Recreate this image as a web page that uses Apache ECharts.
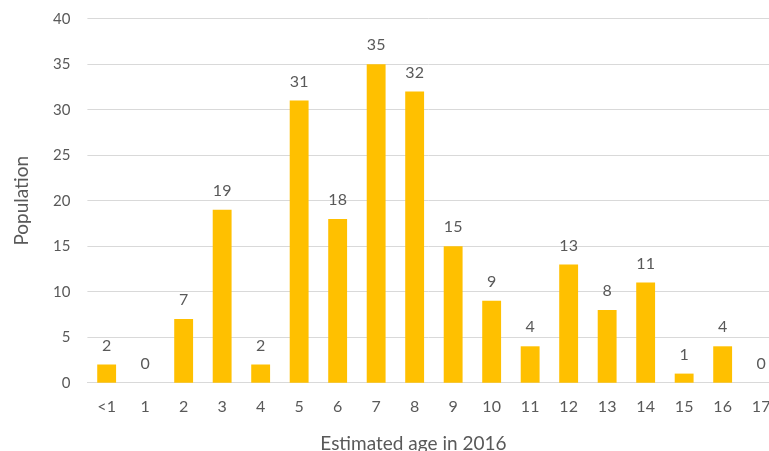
<!DOCTYPE html>
<html>
<head>
<meta charset="utf-8">
<script src="https://cdn.jsdelivr.net/npm/echarts@6/dist/echarts.min.js"></script>
<style>
  html, body { margin: 0; padding: 0; background: #fff; }
  #chart { width: 769px; height: 451px; }
</style>
</head>
<body>
<div id="chart"></div>
<script>
// Age distribution of the population
const ageCategories = ['<1', '1', '2', '3', '4', '5', '6', '7', '8', '9', '10', '11', '12', '13', '14', '15', '16', '17'];
const populationCounts = [2, 0, 7, 19, 2, 31, 18, 35, 32, 15, 9, 4, 13, 8, 11, 1, 4, 0];
const yTicks = { min: 0, max: 40, interval: 5 };

const textColor = '#595959';
const fontFamily = 'Lato, "Open Sans", sans-serif';

const chart = echarts.init(document.getElementById('chart'), null, { renderer: 'canvas' });
chart.setOption({
  animation: false,
  // the plot area runs a little past the right edge of the canvas
  grid: {
    left: 87.4, right: -11.4, top: 18.7, bottom: 68.3,
    containLabel: false,
    outerBoundsMode: 'none'
  },
  xAxis: {
    type: 'category',
    data: ageCategories,
    name: 'Estimated age in 2016',
    nameLocation: 'middle',
    nameGap: 52,
    nameTextStyle: {
      color: textColor, fontSize: 19, fontFamily: fontFamily,
      padding: [0, 41, 0, 0]
    },
    axisLine: { show: true, lineStyle: { color: '#d9d9d9', width: 1 } },
    axisTick: { show: false },
    axisLabel: { color: textColor, fontSize: 16, fontFamily: fontFamily, margin: 16, interval: 0 }
  },
  yAxis: {
    type: 'value',
    min: yTicks.min,
    max: yTicks.max,
    interval: yTicks.interval,
    name: 'Population',
    nameLocation: 'middle',
    nameGap: 56,
    nameTextStyle: { color: textColor, fontSize: 19, fontFamily: fontFamily },
    axisLine: { show: false },
    axisTick: { show: false },
    axisLabel: { color: textColor, fontSize: 15, fontFamily: fontFamily, margin: 17 },
    splitLine: { lineStyle: { color: '#d9d9d9', width: 1 } }
  },
  series: [{
    type: 'bar',
    data: populationCounts,
    barCategoryGap: '51%',
    itemStyle: { color: '#FFC000' },
    label: {
      show: true,
      position: 'top',
      distance: 11,
      color: textColor,
      fontSize: 16,
      fontFamily: fontFamily
    }
  }]
});
</script>
</body>
</html>
